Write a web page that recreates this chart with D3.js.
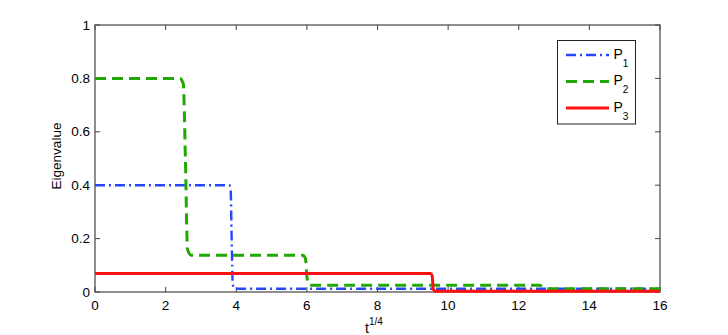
<!DOCTYPE html>
<html>
<head>
<meta charset="utf-8">
<script src="https://cdn.jsdelivr.net/npm/d3@7"></script>
<style>
  html, body { margin: 0; padding: 0; background: #fff; }
  svg { display: block; }
  text { font-family: "Liberation Sans", Arial, Helvetica, sans-serif; fill: #000; }
</style>
</head>
<body>
<svg id="chart" width="728" height="335"></svg>
<script>
// ---- data ----
const xTicks = [0, 2, 4, 6, 8, 10, 12, 14, 16];
const yTicks = [0, 0.2, 0.4, 0.6, 0.8, 1];
const yTickLabels = ["0", "0.2", "0.4", "0.6", "0.8", "1"];

const p1 = [[0, 0.4], [3.8, 0.4], [3.84, 0.39], [3.87, 0.2], [3.9, 0.03], [3.95, 0.013], [4.05, 0.012], [16, 0.012]];
const p2 = [[0, 0.8], [2.4, 0.8], [2.5, 0.78], [2.56, 0.5], [2.62, 0.16], [2.72, 0.138], [5.88, 0.138], [5.96, 0.125],
            [6.0, 0.06], [6.05, 0.028], [6.15, 0.025], [12.6, 0.025], [12.7, 0.016], [12.85, 0.012], [16, 0.012]];
const p3 = [[0, 0.069], [9.5, 0.069], [9.55, 0.06], [9.58, 0.01], [9.64, 0.003], [16, 0.003]];

const seriesNames = ["1", "2", "3"];
const seriesData = [p1, p2, p3];
const seriesColors = ["#2747ff", "#22a800", "#ff1010"];
const seriesDash = ["10,4,2,4", "11,6", null];
const seriesWidth = [2.4, 3, 3];

// ---- layout ----
const svg = d3.select("#chart");
const L = 95, R = 660, T = 25, B = 292;
const x = d3.scaleLinear().domain([0, 16]).range([L, R]);
const y = d3.scaleLinear().domain([0, 1]).range([B, T]);
const axisColor = "#444";
const tickLen = 5;

// frame
svg.append("rect").attr("x", L).attr("y", T).attr("width", R - L).attr("height", B - T)
  .attr("fill", "none").attr("stroke", axisColor).attr("stroke-width", 1.2);

// x ticks (bottom & top, inward)
const gx = svg.append("g");
xTicks.forEach(v => {
  gx.append("line").attr("x1", x(v)).attr("x2", x(v)).attr("y1", B).attr("y2", B - tickLen).attr("stroke", axisColor);
  gx.append("line").attr("x1", x(v)).attr("x2", x(v)).attr("y1", T).attr("y2", T + tickLen).attr("stroke", axisColor);
  gx.append("text").attr("x", x(v)).attr("y", 310).attr("text-anchor", "middle").attr("font-size", 13.5).text(v);
});

// y ticks (left & right, inward)
const gy = svg.append("g");
yTicks.forEach((v, i) => {
  gy.append("line").attr("x1", L).attr("x2", L + tickLen).attr("y1", y(v)).attr("y2", y(v)).attr("stroke", axisColor);
  gy.append("line").attr("x1", R).attr("x2", R - tickLen).attr("y1", y(v)).attr("y2", y(v)).attr("stroke", axisColor);
  gy.append("text").attr("x", L - 5).attr("y", y(v) + 4.5).attr("text-anchor", "end").attr("font-size", 13.5).text(yTickLabels[i]);
});

// axis labels
svg.append("text").attr("transform", "translate(60.5,156) rotate(-90)").attr("text-anchor", "middle")
  .attr("font-size", 13.5).text("Eigenvalue");
const xl = svg.append("text").attr("x", 365).attr("y", 333).attr("font-size", 14);
xl.append("tspan").text("t");
xl.append("tspan").attr("dy", -8).attr("font-size", 10).text("1/4");

// lines
const line = d3.line().x(d => x(d[0])).y(d => y(d[1])).curve(d3.curveMonotoneX);
seriesData.forEach((d, i) => {
  svg.append("path").attr("d", line(d)).attr("fill", "none")
    .attr("stroke", seriesColors[i]).attr("stroke-width", seriesWidth[i])
    .attr("stroke-dasharray", seriesDash[i])
    .attr("stroke-linejoin", "round");
});

// legend
const lg = svg.append("g");
lg.append("rect").attr("x", 557.5).attr("y", 40.5).attr("width", 78).attr("height", 83.5)
  .attr("fill", "#fff").attr("stroke", "#222").attr("stroke-width", 1);
const legY = [55, 81.5, 108];
seriesNames.forEach((n, i) => {
  lg.append("line").attr("x1", 566).attr("x2", 609).attr("y1", legY[i]).attr("y2", legY[i])
    .attr("stroke", seriesColors[i]).attr("stroke-width", seriesWidth[i])
    .attr("stroke-dasharray", seriesDash[i]);
  const t = lg.append("text").attr("x", 613.5).attr("y", legY[i] + 3.5).attr("font-size", 14);
  t.append("tspan").text("P");
  t.append("tspan").attr("dy", 8).attr("font-size", 10).text(n);
});
</script>
</body>
</html>
